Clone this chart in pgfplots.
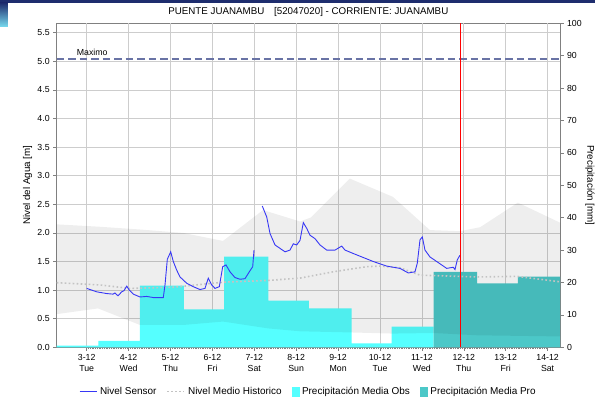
\documentclass[border=0pt]{standalone}
\usepackage{fontspec}
\setmainfont{Liberation Sans}
\usepackage{pgfplots}
\pgfplotsset{compat=1.18}

\definecolor{obs}{RGB}{85,255,255}
\definecolor{pro}{RGB}{76,200,200}
\definecolor{sensor}{RGB}{55,55,245}
\definecolor{maxc}{RGB}{105,115,165}
\definecolor{axisgray}{RGB}{128,128,128}
\definecolor{gridgray}{RGB}{205,205,205}
\definecolor{meangray}{RGB}{195,195,195}
\definecolor{navy}{RGB}{30,45,110}
\definecolor{lcyan}{RGB}{120,220,240}

\tikzset{gridline/.style={draw=gridgray, line width=0.7bp}}

\pgfplotsset{
  base/.style={
    width=503.3bp, height=324bp, scale only axis,
    xmin=2.284, xmax=14.296,
    /pgf/number format/assume math mode=true,
  },
}

\begin{document}
\begin{tikzpicture}
% ---------- left axis: frame, ticks ----------
\begin{axis}[base, name=main,
  ymin=0, ymax=5.666,
  ytick={0,0.5,...,5.5},
  y tick label style={/pgf/number format/fixed, /pgf/number format/fixed zerofill, /pgf/number format/precision=1, font=\fontsize{8.8}{10}\selectfont},
  xtick={3,...,14},
  xticklabels={{3-12\\Tue},{4-12\\Wed},{5-12\\Thu},{6-12\\Fri},{7-12\\Sat},{8-12\\Sun},{9-12\\Mon},{10-12\\Tue},{11-12\\Wed},{12-12\\Thu},{13-12\\Fri},{14-12\\Sat}},
  x tick label style={align=center, font=\fontsize{8.8}{11}\selectfont},
  minor x tick num=23,
  axis line style={axisgray, line width=0.8bp},
  tick style={axisgray, line width=0.6bp},
  major tick length=3.5bp, minor tick length=1.8bp,
  tick align=outside,
  xtick pos=bottom, ytick pos=left,
  ylabel={Nivel del Agua [m]},
  every axis y label/.style={at={(axis description cs:-0.0576,0.5)}, anchor=center, rotate=90, font=\fontsize{9.8}{11}\selectfont},
  title={PUENTE JUANAMBU\quad [52047020] - CORRIENTE: JUANAMBU},
  every axis title/.style={at={(axis description cs:0.5,1)}, anchor=base, yshift=8.5bp, font=\fontsize{9.8}{11}\selectfont},
]
\addplot[draw=none, forget plot] coordinates {(3,0) (14,5)};
\end{axis}

% ---------- right axis: grid (at the level ticks) and precipitation bars ----------
\begin{axis}[base,
  ymin=0, ymax=100,
  axis x line=none, axis y line*=right,
  ytick={0,10,...,100},
  y tick label style={font=\fontsize{8.8}{10}\selectfont},
  axis line style={axisgray, line width=0.8bp},
  tick style={axisgray, line width=0.6bp},
  major tick length=3.5bp, tick align=outside,
  ylabel={Precipitación [mm]},
  every axis y label/.style={at={(axis description cs:1.0596,0.5)}, anchor=center, rotate=-90, font=\fontsize{9.8}{11}\selectfont},
]
\addplot[gridline, forget plot] coordinates {(3,0) (3,100)};
\addplot[gridline, forget plot] coordinates {(4,0) (4,100)};
\addplot[gridline, forget plot] coordinates {(5,0) (5,100)};
\addplot[gridline, forget plot] coordinates {(6,0) (6,100)};
\addplot[gridline, forget plot] coordinates {(7,0) (7,100)};
\addplot[gridline, forget plot] coordinates {(8,0) (8,100)};
\addplot[gridline, forget plot] coordinates {(9,0) (9,100)};
\addplot[gridline, forget plot] coordinates {(10,0) (10,100)};
\addplot[gridline, forget plot] coordinates {(11,0) (11,100)};
\addplot[gridline, forget plot] coordinates {(12,0) (12,100)};
\addplot[gridline, forget plot] coordinates {(13,0) (13,100)};
\addplot[gridline, forget plot] coordinates {(14,0) (14,100)};
\addplot[gridline, forget plot] coordinates {(2.284,8.824) (14.296,8.824)};
\addplot[gridline, forget plot] coordinates {(2.284,17.649) (14.296,17.649)};
\addplot[gridline, forget plot] coordinates {(2.284,26.473) (14.296,26.473)};
\addplot[gridline, forget plot] coordinates {(2.284,35.298) (14.296,35.298)};
\addplot[gridline, forget plot] coordinates {(2.284,44.122) (14.296,44.122)};
\addplot[gridline, forget plot] coordinates {(2.284,52.947) (14.296,52.947)};
\addplot[gridline, forget plot] coordinates {(2.284,61.772) (14.296,61.772)};
\addplot[gridline, forget plot] coordinates {(2.284,70.596) (14.296,70.596)};
\addplot[gridline, forget plot] coordinates {(2.284,79.421) (14.296,79.421)};
\addplot[gridline, forget plot] coordinates {(2.284,88.245) (14.296,88.245)};
\addplot[gridline, forget plot] coordinates {(2.284,97.070) (14.296,97.070)};
\addplot[ybar interval, fill=obs, draw=none] coordinates {
  (2.284,0.5) (3.277,2.0) (4.272,19.0) (5.322,11.7) (6.277,28.0) (7.334,14.4)
  (8.305,12.0) (9.325,1.2) (10.28,6.4) (11.28,0)};
\addplot[ybar interval, fill=pro, draw=none] coordinates {
  (11.28,23.3) (12.32,19.7) (13.29,21.8) (14.296,0)};
\end{axis}

% ---------- level axis: band, lines ----------
\begin{axis}[base, hide axis,
  ymin=0, ymax=5.666,
  legend style={at={(axis description cs:0.5,0)}, anchor=center, yshift=-44bp,
    draw=none, fill=none, font=\fontsize{10}{11}\selectfont,
    /tikz/every even column/.append style={column sep=8bp},
    /tikz/every odd column/.append style={column sep=1bp}},
  legend columns=4,
]
% historical range band
\addplot[fill=black, fill opacity=0.065, draw=none, forget plot] coordinates {
  (2.284,2.15) (3.27,2.11) (4.272,2.06) (5.298,2.00) (6.253,1.86) (7.208,2.40)
  (8.091,2.20) (8.35,2.27) (9.28,2.95) (10.31,2.63) (11.19,2.05) (11.91,2.03)
  (12.39,2.10) (13.29,2.53) (14.296,2.18)
  (14.296,0.19) (12.32,0.21) (11.28,0.25) (10.3,0.24) (9.3,0.26) (8.09,0.28)
  (7.334,0.33) (6.253,0.45) (5.298,0.39) (4.272,0.39) (3.27,0.68) (2.284,0.58)};
% historical mean
\addplot[meangray, line width=1.6bp, dash pattern=on 1.6bp off 2.4bp, forget plot] coordinates {
  (2.284,1.13) (3.317,1.09) (4.033,1.03) (5.067,1.05) (6.277,1.14) (7.334,1.17)
  (8.091,1.21) (8.88,1.32) (9.68,1.41) (10.0,1.42) (10.48,1.39) (10.96,1.26)
  (11.43,1.25) (12.32,1.23) (13.27,1.24) (14.25,1.15) (14.296,1.14)};
% maximum
\addplot[maxc, line width=2bp, dash pattern=on 7.5bp off 4bp, forget plot] coordinates {
  (2.284,5.05) (14.296,5.05)};
% sensor
\addplot[sensor, line width=0.9bp, forget plot] coordinates {
  (3.000,1.03) (3.239,0.97) (3.477,0.94) (3.628,0.93) (3.675,0.95) (3.747,0.90)
  (3.835,0.97) (3.890,0.99) (3.955,1.07) (4.017,1.00) (4.112,0.93) (4.272,0.88)
  (4.432,0.89) (4.589,0.87) (4.828,0.87) (4.869,1.09) (4.924,1.54) (5.005,1.67)
  (5.067,1.50) (5.148,1.35) (5.227,1.23) (5.387,1.12) (5.544,1.06) (5.704,1.01)
  (5.823,1.03) (5.902,1.21) (5.983,1.09) (6.062,1.03) (6.165,1.06) (6.246,1.41)
  (6.325,1.44) (6.420,1.32) (6.539,1.22) (6.659,1.19) (6.778,1.20) (6.881,1.32)
  (6.962,1.41) (6.993,1.70)};
\addplot[sensor, line width=0.9bp, forget plot] coordinates {
  (7.191,2.47) (7.296,2.28) (7.375,1.99) (7.494,1.79) (7.733,1.67) (7.852,1.70)
  (7.931,1.81) (8.012,1.79) (8.091,1.87) (8.170,2.18) (8.251,2.08) (8.329,1.96)
  (8.449,1.90) (8.568,1.79) (8.728,1.70) (8.926,1.70) (9.086,1.77) (9.165,1.70)
  (9.363,1.64) (9.601,1.57) (9.840,1.50) (10.160,1.42) (10.477,1.38) (10.675,1.30)
  (10.835,1.32) (10.890,1.47) (10.955,1.88) (11.010,1.93) (11.074,1.70) (11.193,1.58)
  (11.353,1.50) (11.592,1.38) (11.749,1.40) (11.790,1.36) (11.845,1.53) (11.909,1.61)};
% now line
\addplot[red, line width=1bp, forget plot] coordinates {(11.92,0) (11.92,5.666)};
\node[anchor=base west, font=\fontsize{8.8}{10}\selectfont, inner sep=0pt] at (axis cs:2.76,5.10) {Maximo};

\addlegendimage{sensor, line width=0.9bp}
\addlegendentry{Nivel Sensor}
\addlegendimage{meangray, line width=1.6bp, dash pattern=on 1.6bp off 2.4bp}
\addlegendentry{Nivel Medio Historico}
\addlegendimage{legend image code/.code={\fill[obs] (0bp,-4.5bp) rectangle (7bp,4.5bp);}}
\addlegendentry{Precipitación Media Obs}
\addlegendimage{legend image code/.code={\fill[pro] (0bp,-4.5bp) rectangle (7bp,4.5bp);}}
\addlegendentry{Precipitación Media Pro}
\end{axis}

% page decoration and bounding box
\pgfresetboundingbox
\path ([xshift=-56.7bp,yshift=-58.7bp]main.south west) rectangle ([xshift=35bp,yshift=23.3bp]main.north east);
\fill[navy] ([xshift=-56.7bp,yshift=20.3bp]main.north west) rectangle ([xshift=35bp,yshift=23.3bp]main.north east);
\shade[top color=navy, bottom color=lcyan] ([xshift=-56.7bp,yshift=-3.7bp]main.north west) rectangle ([xshift=-48.7bp,yshift=20.3bp]main.north west);
\end{tikzpicture}
\end{document}
